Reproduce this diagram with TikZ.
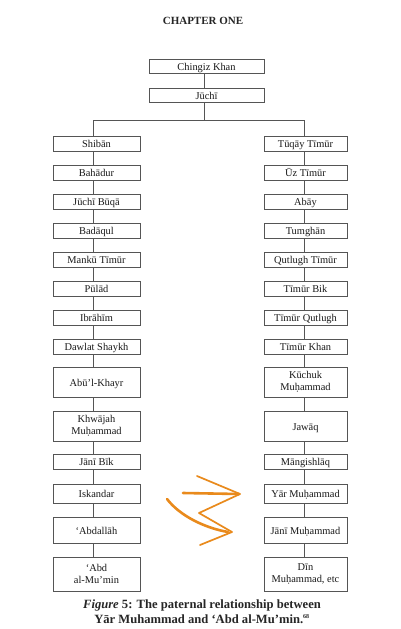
\documentclass[tikz,border=0pt]{standalone}
\usepackage{fontspec}
\setmainfont{Liberation Serif}
\definecolor{linegray}{HTML}{555555}
\definecolor{arroworange}{HTML}{E98A1C}
\tikzset{
  box/.style={draw=linegray, line width=0.8pt, rectangle, inner sep=1pt, align=center,
    font=\fontsize{10.4}{12}\selectfont, text=black!90},
  one/.style={text height=9pt, text depth=1pt},
  lbox/.style={box, minimum width=87pt},
  rbox/.style={box, minimum width=83pt},
  conn/.style={draw=linegray, line width=0.8pt},
  brush/.style={draw=arroworange, line cap=round, line join=round},
}
\begin{document}
\begin{tikzpicture}[x=1pt,y=-1pt]
\useasboundingbox[fill=white] (0,0) rectangle (400,629);
\node[font=\bfseries\fontsize{11}{13}\selectfont, text=black!85] (title) at (203,21) {CHAPTER ONE};
% top
\node[box, one, minimum width=115pt, minimum height=14pt] (ck) at (206.5,66) {Chingiz Khan};
\node[box, one, minimum width=115pt, minimum height=14pt] (ju) at (206.5,95) {Jūchī};
% left column
\node[lbox, one, minimum height=15pt] (l1) at (96.5,143.5) {Shibān};
\node[lbox, one, minimum height=15pt] (l2) at (96.5,172.5) {Bahādur};
\node[lbox, one, minimum height=15pt] (l3) at (96.5,201.5) {Jūchī Būqā};
\node[lbox, one, minimum height=15pt] (l4) at (96.5,230.5) {Badāqul};
\node[lbox, one, minimum height=15pt] (l5) at (96.5,259.5) {Mankū Tīmūr};
\node[lbox, one, minimum height=15pt] (l6) at (96.5,288.5) {Pūlād};
\node[lbox, one, minimum height=15pt] (l7) at (96.5,317.5) {Ibrāhīm};
\node[lbox, one, minimum height=15pt] (l8) at (96.5,346.5) {Dawlat Shaykh};
\node[lbox, one, minimum height=30pt] (l9) at (96.5,382) {Abū’l-Khayr};
\node[lbox, minimum height=30pt] (l10) at (96.5,426) {Khwājah\\Muḥammad};
\node[lbox, one, minimum height=15pt] (l11) at (96.5,461.5) {Jānī Bīk};
\node[lbox, one, minimum height=19pt] (l12) at (96.5,493.5) {Iskandar};
\node[lbox, one, minimum height=26pt] (l13) at (96.5,530) {‘Abdallāh};
\node[lbox, minimum height=34pt] (l14) at (96.5,574) {‘Abd\\al-Mu’min};
% right column
\node[rbox, one, minimum height=15pt] (r1) at (305.5,143.5) {Tūqāy Tīmūr};
\node[rbox, one, minimum height=15pt] (r2) at (305.5,172.5) {Ūz Tīmūr};
\node[rbox, one, minimum height=15pt] (r3) at (305.5,201.5) {Abāy};
\node[rbox, one, minimum height=15pt] (r4) at (305.5,230.5) {Tumghān};
\node[rbox, one, minimum height=15pt] (r5) at (305.5,259.5) {Qutlugh Tīmūr};
\node[rbox, one, minimum height=15pt] (r6) at (305.5,288.5) {Tīmūr Bik};
\node[rbox, one, minimum height=15pt] (r7) at (305.5,317.5) {Tīmūr Qutlugh};
\node[rbox, one, minimum height=15pt] (r8) at (305.5,346.5) {Tīmūr Khan};
\node[rbox, minimum height=30pt] (r9) at (305.5,382) {Kūchuk\\Muḥammad};
\node[rbox, one, minimum height=30pt] (r10) at (305.5,426) {Jawāq};
\node[rbox, one, minimum height=15pt] (r11) at (305.5,461.5) {Māngishlāq};
\node[rbox, one, minimum height=19pt] (r12) at (305.5,493.5) {Yār Muḥammad};
\node[rbox, one, minimum height=26pt] (r13) at (305.5,530) {Jānī Muḥammad};
\node[rbox, minimum height=34pt] (r14) at (305.5,574) {Dīn\\Muḥammad, etc};
% connectors
\coordinate (fork) at (204,120);
\coordinate (lcorner) at (93,120);
\coordinate (rcorner) at (304,120);
\draw[conn] ([xshift=-2.5pt]ck.south) -- ([xshift=-2.5pt]ju.north);
\draw[conn] ([xshift=-2.5pt]ju.south) -- (fork);
\draw[conn] ([xshift=-3.5pt]l1.north) -- (lcorner) -- (rcorner) -- ([xshift=-1.5pt]r1.north);
\foreach \a/\b in {1/2,2/3,3/4,4/5,5/6,6/7,7/8,8/9,9/10,10/11,11/12,12/13,13/14}{
  \draw[conn] ([xshift=-3.5pt]l\a.south) -- ([xshift=-3.5pt]l\b.north);
  \draw[conn] ([xshift=-1.5pt]r\a.south) -- ([xshift=-1.5pt]r\b.north);
}
% orange hand-drawn arrows
\draw[brush, line width=2.6pt] (183,493) -- (239,494);
\draw[brush, line width=1.7pt] (197,476) -- (240,494) -- (199,513) -- (232,532) -- (200,545);
\draw[brush, line width=2.6pt] (167,499) .. controls (180,516) and (205,528) .. (228,532);
% caption
\node[anchor=base, font=\bfseries\fontsize{12.6}{14}\selectfont, text=black!85] (cap1) at (202,608) {\textit{Figure} 5: The paternal relationship between};
\node[anchor=base, font=\bfseries\fontsize{12.6}{14}\selectfont, text=black!85] (cap2) at (202,623) {Yār Muhammad and ‘Abd al-Mu’min.\textsuperscript{\fontsize{6}{7}\selectfont 68}};
\end{tikzpicture}
\end{document}
